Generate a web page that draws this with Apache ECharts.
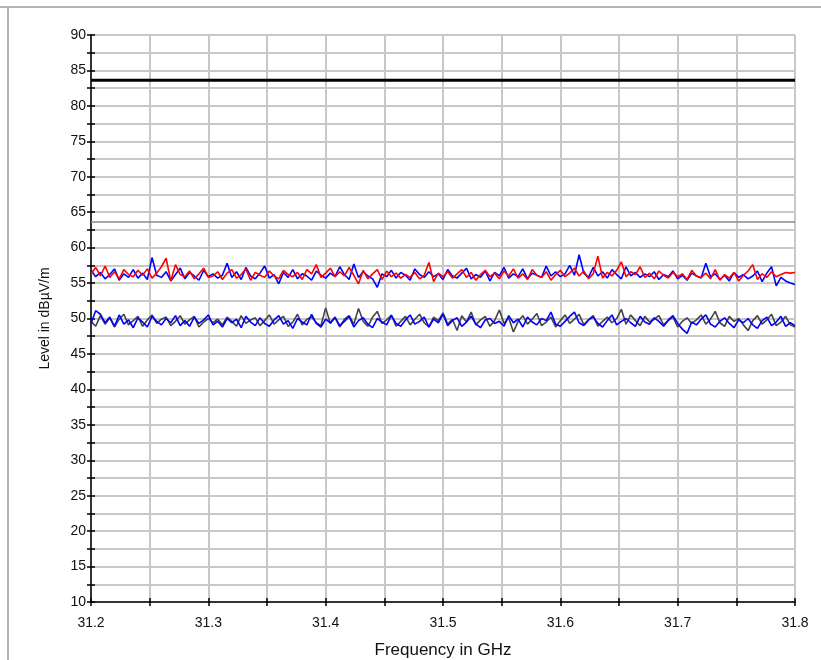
<!DOCTYPE html>
<html>
<head>
<meta charset="utf-8">
<script src="https://cdn.jsdelivr.net/npm/echarts@6/dist/echarts.min.js"></script>
<style>
  html, body { margin: 0; padding: 0; background: #fff; }
  #chart { width: 821px; height: 660px; }
</style>
</head>
<body>
<div id="chart"></div>
<script>
// sweep: 31.2 GHz .. 31.8 GHz, one sample every 4 MHz
const FREQ_START = 31.2;
const FREQ_STEP = 0.004;

// limit lines (dBµV/m)
const limitUpper = 83.6;
const limitLower = 63.6;

const redUpper = [
  56.3, 57.2, 56.0, 57.4, 55.8, 56.6, 55.6, 56.9, 56.2, 55.9,
  56.8, 56.1, 57.0, 55.7, 56.4, 57.3, 58.5, 55.3, 57.6, 56.2,
  55.9, 56.7, 55.6, 56.3, 57.1, 55.8, 56.0, 56.6, 55.5, 56.4,
  56.9, 55.7, 56.2, 57.0, 55.4, 56.5, 56.1, 55.8, 56.7, 56.0,
  55.6, 56.8, 56.2, 55.9, 56.5, 55.5, 56.9, 56.3, 57.6, 55.8,
  56.4, 57.1, 55.9, 56.6, 56.0, 57.2, 56.1, 54.9, 56.8, 55.6,
  56.3, 56.9, 55.5, 56.7, 55.9, 56.4, 55.7, 56.2, 55.8, 56.5,
  55.6, 56.1, 57.9, 55.2, 56.4, 55.9, 56.6, 55.7, 56.3, 56.9,
  55.8, 56.5, 55.4, 56.2, 56.8, 55.9, 56.4, 55.6, 56.7, 56.0,
  57.0, 55.7, 56.3, 55.5, 56.9, 56.1, 55.8, 56.6, 55.4, 56.2,
  56.8, 55.9, 56.4, 57.1, 56.0, 56.7, 55.6, 56.3, 58.8, 55.7,
  56.5, 56.0, 56.8, 58.0, 55.9, 56.6, 56.2, 57.3, 55.8, 56.4,
  55.6, 56.7, 56.1, 55.7, 56.5, 55.9, 56.3, 55.5, 56.8, 56.0,
  55.8, 56.4, 55.6, 56.9, 55.4, 56.2, 55.7, 56.5, 55.3, 56.1,
  56.7, 57.6, 55.5, 56.3, 55.8, 56.6, 55.9, 56.2, 56.5, 56.4,
  56.5
];

const blueUpper = [
  56.8, 55.9, 56.5, 55.6, 56.2, 57.0, 55.4, 56.3, 55.8, 56.9,
  55.7, 56.4, 55.5, 58.6, 56.1, 55.8, 56.6, 55.3, 56.2, 57.1,
  55.6, 56.5, 56.0, 55.4, 56.8, 55.9, 56.3, 55.7, 56.1, 57.8,
  55.8, 56.6, 55.5, 57.2, 56.0, 55.6, 56.4, 57.4, 55.7, 56.2,
  54.9, 56.5, 55.8, 56.9, 55.6, 56.3, 56.0, 55.4, 56.7, 56.1,
  55.7, 56.4, 55.9, 57.3, 56.2, 55.5, 57.7, 55.8, 56.6, 56.0,
  55.6, 54.4, 56.3, 55.9, 56.8, 55.7, 56.5, 56.1, 55.4, 57.0,
  56.2, 55.8, 56.6, 55.9, 56.3, 55.5, 56.9, 56.0, 55.7, 56.4,
  57.1, 55.6, 56.2, 55.8, 56.7, 55.3, 56.5, 56.0, 57.2, 55.7,
  56.3, 55.9, 57.0, 55.6, 56.4, 56.1, 55.8, 57.4, 56.0, 56.6,
  55.9, 56.3, 57.5, 56.1, 59.0, 56.4, 55.8, 57.2, 56.0, 56.6,
  55.7, 56.9, 56.2, 55.6, 57.3, 56.0, 56.5, 55.8, 56.3, 55.9,
  56.6, 55.5, 56.2, 55.9, 56.7, 55.6, 56.1, 55.4, 56.4, 56.0,
  55.7, 57.8, 55.9, 56.3, 55.5, 56.1, 55.3, 56.5, 55.8, 56.2,
  55.6, 56.0, 56.7, 55.2, 56.4, 57.3, 54.6, 55.8, 55.3, 55.0,
  54.8
];

const grayLower = [
  49.6, 48.9, 50.4, 49.2, 50.1, 48.8, 49.9, 50.6, 49.1, 49.7,
  50.3, 48.9, 49.8, 50.5, 49.3, 49.9, 50.2, 49.0, 49.6, 50.4,
  49.2, 49.8, 50.3, 48.8, 49.5, 50.0, 49.4, 49.9, 49.1, 50.2,
  49.6, 48.9, 50.4, 49.3, 49.8, 50.1, 49.0, 49.7, 50.5, 49.2,
  49.8, 50.3, 48.9, 49.5, 50.6, 49.1, 49.9, 50.2, 49.4, 49.0,
  51.5, 49.3, 50.1, 48.8, 49.9, 50.4, 49.2, 51.4, 49.6, 48.9,
  50.2, 51.0, 49.3, 49.8, 50.5, 48.9, 49.6, 50.3, 49.1, 49.9,
  50.6, 49.4, 48.8, 50.2, 49.7, 50.8, 49.2, 49.9, 48.3, 50.4,
  49.5, 50.9, 49.1, 49.8, 50.3, 48.9, 49.7, 51.2, 49.3, 50.1,
  48.1, 49.6, 50.4, 49.2, 49.9, 50.7, 49.0, 49.5, 50.2, 48.8,
  49.7, 50.5, 49.3, 49.9, 50.6, 49.1, 49.8, 50.4, 48.9, 49.6,
  50.2, 49.4, 50.0, 51.3, 49.2, 50.5, 49.7, 49.0, 50.3, 49.5,
  49.9, 50.4, 49.1, 49.7, 50.2, 48.8, 49.6, 50.1, 49.3, 49.8,
  50.5, 49.2, 49.9, 51.0, 49.4, 48.9, 50.3, 49.6, 50.0, 49.1,
  48.3, 49.7, 50.4, 49.2, 49.8, 50.6, 49.0, 49.5, 50.3, 49.1,
  48.8
];

const blueLower = [
  49.3, 51.1, 50.6, 49.4, 50.2, 48.9, 50.5, 49.2, 49.8, 48.7,
  50.1, 49.5, 48.8, 50.3, 49.6, 49.1, 50.0, 49.4, 50.4, 49.0,
  49.7, 48.9, 50.2, 49.3, 49.8, 50.5, 49.1, 49.6, 48.8, 50.0,
  49.4, 49.9, 48.7, 50.3, 49.5, 49.0, 50.1, 49.3, 48.9, 49.8,
  50.4, 49.2, 49.7, 48.6, 50.0, 49.5, 49.1, 50.6, 49.3, 48.8,
  49.9, 49.4, 50.2, 49.0, 49.6, 50.3, 48.8, 49.7, 50.1, 49.2,
  48.7, 50.0, 49.5, 49.1, 50.4, 49.3, 48.9, 49.8, 50.5, 49.2,
  49.6, 50.2, 48.8, 49.9, 49.4, 50.6, 49.0, 49.7, 50.1, 48.9,
  49.5, 50.3, 49.2, 48.7, 49.8, 50.0, 49.3, 49.6, 48.9, 50.4,
  49.4, 49.9, 48.8, 50.2, 49.5, 49.1, 50.0, 49.7, 50.9, 49.2,
  48.9, 49.6, 50.3, 50.9, 49.4, 49.0, 49.8, 50.2, 49.3, 48.8,
  49.7, 50.5, 49.1, 49.6, 50.0, 49.4, 48.9, 50.3, 49.5, 49.2,
  50.1, 49.6, 48.9, 49.8, 50.4, 49.3, 48.5, 47.9, 49.5, 49.1,
  49.9, 50.5, 49.2, 48.8, 49.6, 50.1, 49.3, 48.7, 49.8, 49.4,
  50.0, 49.1, 48.6, 49.7, 50.2, 49.0, 49.5, 50.3, 48.9, 49.4,
  49.0
];

function toPoints(values) {
  return values.map((v, i) => [+(FREQ_START + i * FREQ_STEP).toFixed(4), v]);
}

const X_MIN = 31.2, X_MAX = 31.8;
const Y_MIN = 10, Y_MAX = 90;

const chart = echarts.init(document.getElementById('chart'), null, { renderer: 'canvas' });

const FONT = 'Liberation Sans, Arial, sans-serif';
const labelFont = { color: '#111', fontSize: 14, fontFamily: FONT };
const gridBox = { left: 91, right: 26, top: 35, bottom: 58, containLabel: false, outerBoundsMode: 'none' };

function traceSeries(name, data, color) {
  return {
    name: name,
    type: 'line',
    data: toPoints(data),
    showSymbol: false,
    symbol: 'none',
    lineStyle: { color: color, width: 1.6 },
    itemStyle: { color: color },
    animation: false,
    z: 3
  };
}

function limitSeries(name, value, color, width) {
  return {
    name: name,
    type: 'line',
    data: [[X_MIN, value], [X_MAX, value]],
    showSymbol: false,
    symbol: 'none',
    lineStyle: { color: color, width: width },
    animation: false,
    z: 2
  };
}

const option = {
  backgroundColor: '#fff',
  animation: false,
  graphic: [
    { type: 'line', shape: { x1: 0, y1: 7, x2: 821, y2: 7 }, style: { stroke: '#b4b4b4', lineWidth: 2 } },
    { type: 'line', shape: { x1: 8, y1: 7, x2: 8, y2: 660 }, style: { stroke: '#b4b4b4', lineWidth: 2 } }
  ],
  grid: [
    Object.assign({}, gridBox),
    Object.assign({}, gridBox)
  ],
  xAxis: [
    {
      type: 'value',
      gridIndex: 0,
      min: X_MIN,
      max: X_MAX,
      interval: 0.05,
      name: 'Frequency in GHz',
      nameLocation: 'middle',
      nameGap: 40,
      nameTextStyle: { color: '#111', fontSize: 17, fontFamily: FONT },
      axisLine: { show: true, onZero: false, lineStyle: { color: '#000', width: 1.5 } },
      axisTick: { show: true, inside: false, length: 4, lineStyle: { color: '#000', width: 1.5 } },
      axisLabel: Object.assign({
        margin: 14,
        showMinLabel: true,
        showMaxLabel: true,
        formatter: function (v) {
          const k = Math.round(v * 100);
          return k % 10 === 0 ? (k / 100).toFixed(1) : '';
        }
      }, labelFont),
      splitLine: { show: true, lineStyle: { color: '#c8c8c8', width: 2 } }
    },
    {
      type: 'value',
      gridIndex: 1,
      min: X_MIN,
      max: X_MAX,
      interval: 0.05,
      axisLine: { show: false, onZero: false },
      axisTick: { show: true, inside: true, length: 4, lineStyle: { color: '#000', width: 1.5 } },
      axisLabel: { show: false },
      splitLine: { show: false }
    }
  ],
  yAxis: [
    {
      type: 'value',
      gridIndex: 0,
      min: Y_MIN,
      max: Y_MAX,
      interval: 2.5,
      name: 'Level in dBµV/m',
      nameLocation: 'middle',
      nameGap: 39,
      nameRotate: 90,
      nameTextStyle: { color: '#111', fontSize: 14, fontFamily: FONT },
      axisLine: { show: true, onZero: false, lineStyle: { color: '#000', width: 1.5 } },
      axisTick: { show: true, inside: false, length: 4, lineStyle: { color: '#000', width: 1.5 } },
      axisLabel: Object.assign({
        margin: 5,
        showMinLabel: true,
        showMaxLabel: true,
        formatter: function (v) {
          const k = Math.round(v * 10);
          return k % 50 === 0 ? String(k / 10) : '';
        }
      }, labelFont),
      splitLine: { show: true, lineStyle: { color: '#c8c8c8', width: 2 } }
    },
    {
      type: 'value',
      gridIndex: 1,
      min: Y_MIN,
      max: Y_MAX,
      interval: 2.5,
      axisLine: { show: false, onZero: false },
      axisTick: { show: true, inside: true, length: 4, lineStyle: { color: '#000', width: 1.5 } },
      axisLabel: { show: false },
      splitLine: { show: false }
    }
  ],
  series: [
    limitSeries('Limit', limitUpper, '#000', 3),
    limitSeries('Limit margin', limitLower, '#8a8a8a', 1.5),
    traceSeries('Average', grayLower, '#444'),
    traceSeries('Average (V)', blueLower, '#0000ff'),
    traceSeries('Peak (V)', blueUpper, '#0000ff'),
    traceSeries('Peak', redUpper, '#ff0000')
  ]
};

chart.setOption(option);
</script>
</body>
</html>
